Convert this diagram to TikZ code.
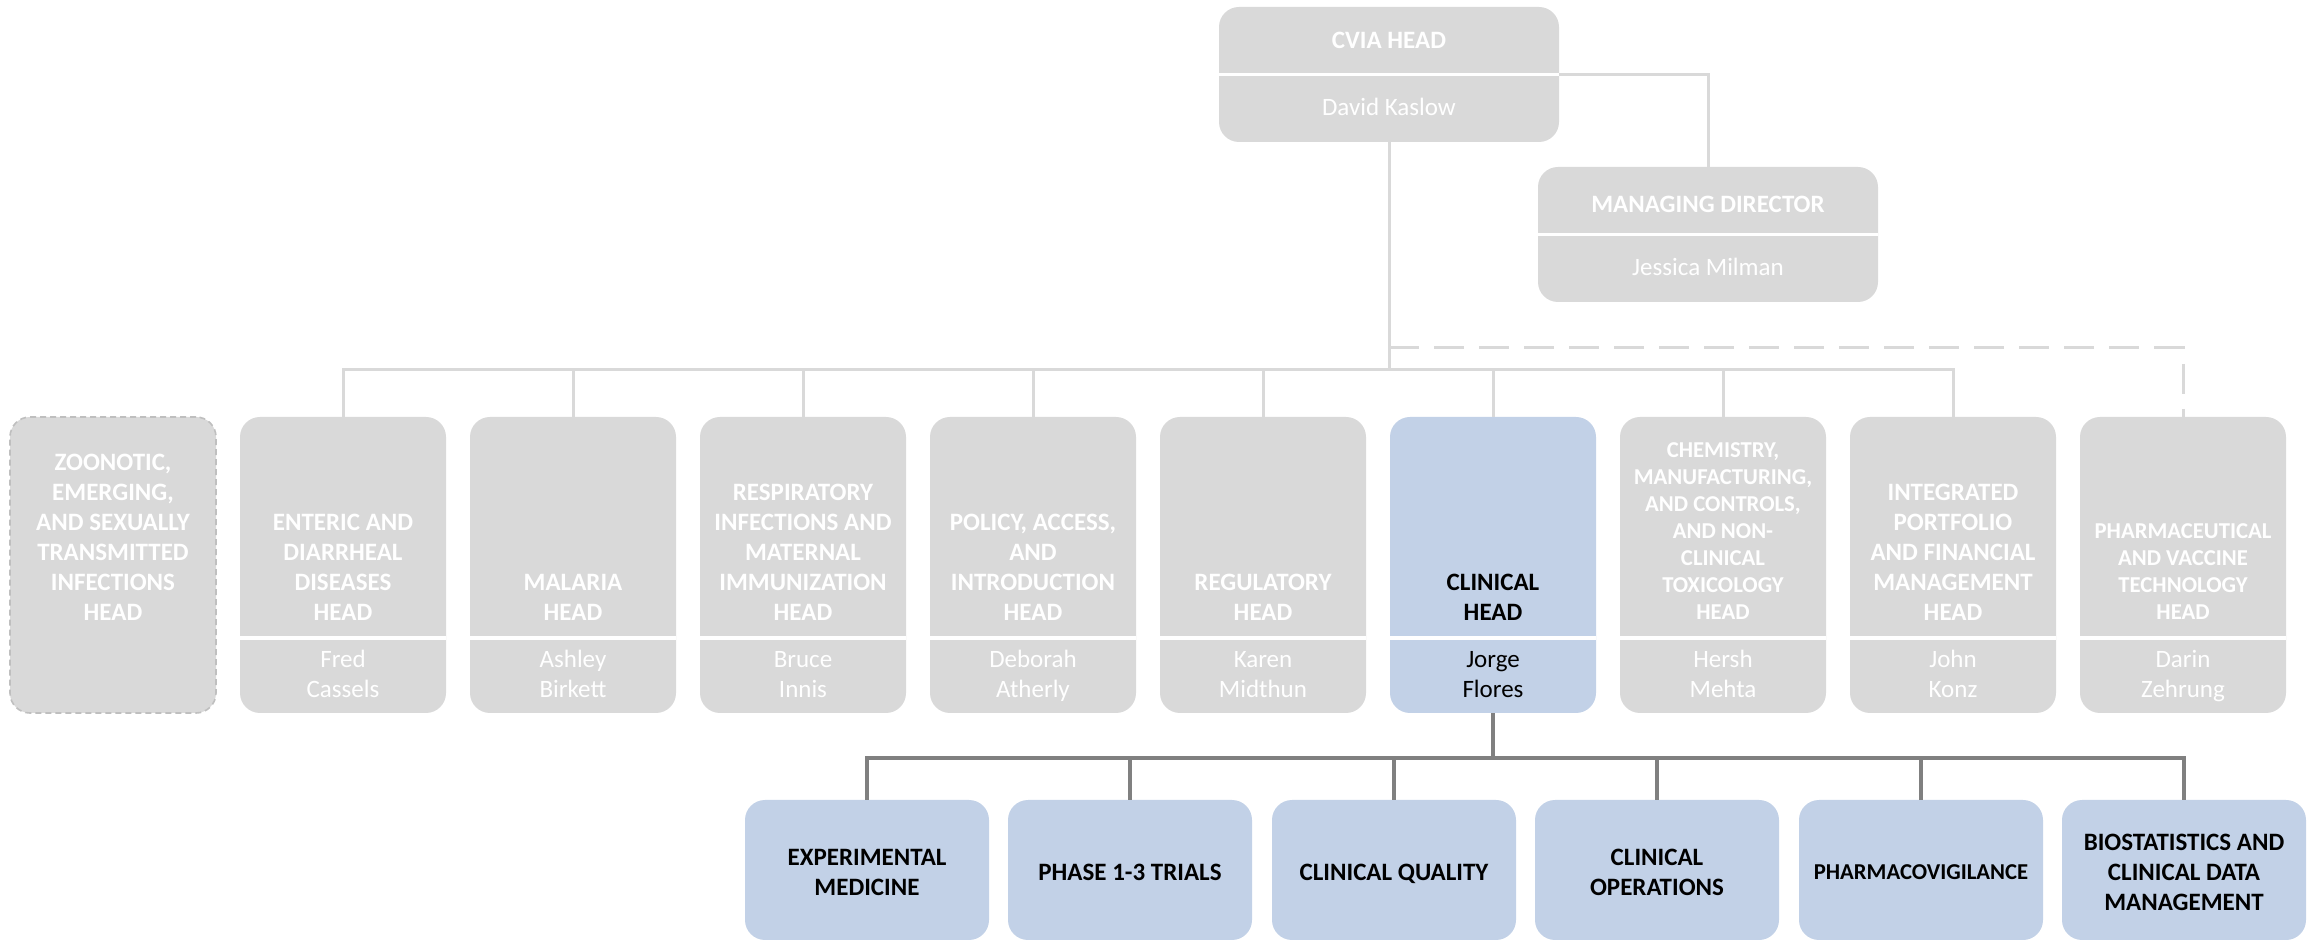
\documentclass[tikz,border=0pt]{standalone}
\usepackage{fontspec}
\setmainfont{Carlito}
\definecolor{boxgray}{HTML}{D9D9D9}
\definecolor{boxblue}{HTML}{C2D1E7}
\definecolor{lineg}{HTML}{D9D9D9}
\definecolor{lined}{HTML}{808080}
\definecolor{dashb}{HTML}{BFBFBF}
\tikzset{
  rowbox/.style={rectangle, rounded corners=10pt, minimum width=103pt, minimum height=148pt, inner sep=0pt, fill=boxgray, draw=none},
  bluebox/.style={rowbox, fill=boxblue},
  dashbox/.style={rowbox, draw=dashb, dash pattern=on 3pt off 2pt, line width=0.8pt},
  topbox/.style={rectangle, rounded corners=10pt, minimum width=170pt, minimum height=67.5pt, inner sep=0pt, fill=boxgray},
  childbox/.style={rectangle, rounded corners=10pt, minimum width=122pt, minimum height=70pt, inner sep=0pt, fill=boxblue},
  divider/.style={draw=white, line width=1.6pt},
  title/.style={font=\fontsize{12.5}{15}\selectfont\bfseries, text=white, align=center, anchor=south, inner sep=0pt},
  smalltitle/.style={title, font=\fontsize{11.35}{13.5}\selectfont\bfseries},
  person/.style={font=\fontsize{12.5}{15}\selectfont, text=white, align=center, anchor=south, inner sep=0pt},
  toptitle/.style={font=\fontsize{12.5}{15}\selectfont\bfseries, text=white, anchor=base, inner sep=0pt},
  topname/.style={font=\fontsize{12.5}{15}\selectfont, text=white, anchor=base, inner sep=0pt},
  childtext/.style={font=\fontsize{12.5}{15}\selectfont\bfseries, text=black, align=center, anchor=center, inner sep=0pt},
  smallchildtext/.style={childtext, font=\fontsize{11.35}{13.5}\selectfont\bfseries},
  conn/.style={draw=lineg, line width=1.5pt},
  dconn/.style={draw=lineg, line width=1.5pt, dash pattern=on 15pt off 7.5pt},
  conn2/.style={draw=lined, line width=1.6pt},
}
\begin{document}
\begin{tikzpicture}[x=0.5pt,y=-0.5pt]
\useasboundingbox (0,0) rectangle (2315,940);
\path (0,638) coordinate (divy);

% ---------- top boxes ----------
\node[topbox] (cvia) at (1389,74.5) {};
\draw[divider] (cvia.west) -- (cvia.east);
\node[toptitle] (cviat) at (1389,49) {CVIA HEAD};
\node[topname] (cvian) at (1389,116) {David Kaslow};

\node[topbox] (md) at (1708,234.5) {};
\draw[divider] (md.west) -- (md.east);
\node[toptitle] (mdt) at (1708,213) {MANAGING DIRECTOR};
\node[topname] (mdn) at (1708,276) {Jessica Milman};

% ---------- second row ----------
\node[dashbox] (e1) at (113,565) {};
\node[title] (t1) at (113,630) {ZOONOTIC,\strut\\EMERGING,\strut\\AND SEXUALLY\strut\\TRANSMITTED\strut\\INFECTIONS\strut\\HEAD\strut};

\node[rowbox] (e2) at (343,565) {};
\draw[divider] (e2.west |- divy) -- (e2.east |- divy);
\node[title] (t2) at (343,630) {ENTERIC AND\strut\\DIARRHEAL\strut\\DISEASES\strut\\HEAD\strut};
\node[person] (n2) at (343,707) {Fred\strut\\Cassels\strut};

\node[rowbox] (e3) at (573,565) {};
\draw[divider] (e3.west |- divy) -- (e3.east |- divy);
\node[title] (t3) at (573,630) {MALARIA\strut\\HEAD\strut};
\node[person] (n3) at (573,707) {Ashley\strut\\Birkett\strut};

\node[rowbox] (e4) at (803,565) {};
\draw[divider] (e4.west |- divy) -- (e4.east |- divy);
\node[title] (t4) at (803,630) {RESPIRATORY\strut\\INFECTIONS AND\strut\\MATERNAL\strut\\IMMUNIZATION\strut\\HEAD\strut};
\node[person] (n4) at (803,707) {Bruce\strut\\Innis\strut};

\node[rowbox] (e5) at (1033,565) {};
\draw[divider] (e5.west |- divy) -- (e5.east |- divy);
\node[title] (t5) at (1033,630) {POLICY, ACCESS,\strut\\AND\strut\\INTRODUCTION\strut\\HEAD\strut};
\node[person] (n5) at (1033,707) {Deborah\strut\\Atherly\strut};

\node[rowbox] (e6) at (1263,565) {};
\draw[divider] (e6.west |- divy) -- (e6.east |- divy);
\node[title] (t6) at (1263,630) {REGULATORY\strut\\HEAD\strut};
\node[person] (n6) at (1263,707) {Karen\strut\\Midthun\strut};

\node[bluebox] (e7) at (1493,565) {};
\draw[divider] (e7.west |- divy) -- (e7.east |- divy);
\node[title, text=black] (t7) at (1493,630) {CLINICAL\strut\\HEAD\strut};
\node[person, text=black] (n7) at (1493,707) {Jorge\strut\\Flores\strut};

\node[rowbox] (e8) at (1723,565) {};
\draw[divider] (e8.west |- divy) -- (e8.east |- divy);
\node[smalltitle] (t8) at (1723,628) {CHEMISTRY,\strut\\MANUFACTURING,\strut\\AND CONTROLS,\strut\\AND NON-\strut\\CLINICAL\strut\\TOXICOLOGY\strut\\HEAD\strut};
\node[person] (n8) at (1723,707) {Hersh\strut\\Mehta\strut};

\node[rowbox] (e9) at (1953,565) {};
\draw[divider] (e9.west |- divy) -- (e9.east |- divy);
\node[title] (t9) at (1953,630) {INTEGRATED\strut\\PORTFOLIO\strut\\AND FINANCIAL\strut\\MANAGEMENT\strut\\HEAD\strut};
\node[person] (n9) at (1953,707) {John\strut\\Konz\strut};

\node[rowbox] (e10) at (2183,565) {};
\draw[divider] (e10.west |- divy) -- (e10.east |- divy);
\node[smalltitle] (t10) at (2183,628) {PHARMACEUTICAL\strut\\AND VACCINE\strut\\TECHNOLOGY\strut\\HEAD\strut};
\node[person] (n10) at (2183,707) {Darin\strut\\Zehrung\strut};

% ---------- clinical children ----------
\node[childbox] (c1) at (867,870) {};
\node[childtext] (ct1) at (867,874) {EXPERIMENTAL\strut\\MEDICINE\strut};
\node[childbox] (c2) at (1130,870) {};
\node[childtext] (ct2) at (1130,874) {PHASE 1-3 TRIALS\strut};
\node[childbox] (c3) at (1394,870) {};
\node[childtext] (ct3) at (1394,874) {CLINICAL QUALITY\strut};
\node[childbox] (c4) at (1657,870) {};
\node[childtext] (ct4) at (1657,874) {CLINICAL\strut\\OPERATIONS\strut};
\node[childbox] (c5) at (1921,870) {};
\node[smallchildtext] (ct5) at (1921,874) {PHARMACOVIGILANCE\strut};
\node[childbox] (c6) at (2184,870) {};
\node[childtext] (ct6) at (2184,874) {BIOSTATISTICS AND\strut\\CLINICAL DATA\strut\\MANAGEMENT\strut};

% ---------- connectors ----------
\path (1389,370) coordinate (bus);
\path (1389,348) coordinate (dj);
\path (1493,758) coordinate (cbus);

\draw[conn] (cvia.east) -| (md.north);
\draw[conn] (cvia.south) -- (bus);
\foreach \k in {e2,e3,e4,e5,e6,e7,e8,e9}{
  \draw[conn] (bus) -| (\k.north);
}
\draw[dconn] (dj) -| (e10.north);

\draw[conn2] (e7.south) -- (cbus);
\foreach \k in {c1,c2,c3,c4,c5,c6}{
  \draw[conn2] (cbus) -| (\k.north);
}
\end{tikzpicture}
\end{document}
